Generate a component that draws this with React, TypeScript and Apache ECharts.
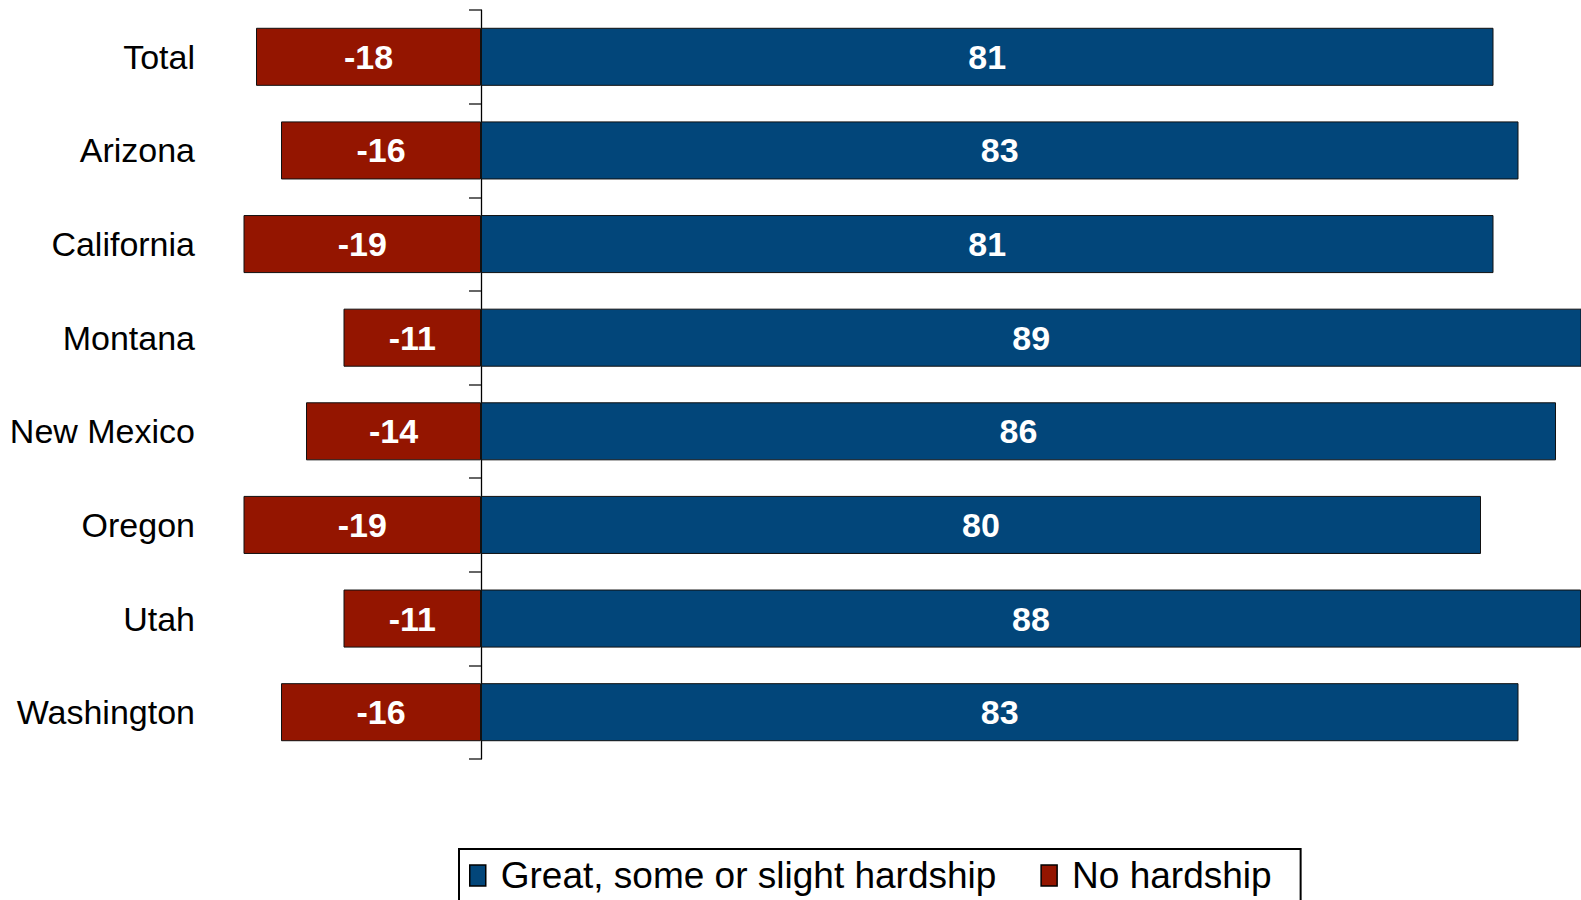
import React, { useEffect, useRef } from "react";
import * as echarts from "echarts";

const categories = ["Total", "Arizona", "California", "Montana", "New Mexico", "Oregon", "Utah", "Washington"];
const hardship = [81, 83, 81, 89, 86, 80, 88, 83];
const noHardship = [-18, -16, -19, -11, -14, -19, -11, -16];
const seriesNames = ["Great, some or slight hardship", "No hardship"];

const BLUE = "#02467A";
const RED = "#941500";
const FONT = "'Liberation Sans', Arial, sans-serif";

export default function App() {
  const ref = useRef<HTMLDivElement>(null);
  useEffect(() => {
    if (!ref.current) return;
    const chart = echarts.init(ref.current, null, { renderer: "svg" });
    const label = {
      show: true,
      position: "inside",
      color: "#fff",
      fontWeight: "bold",
      fontSize: 34,
      fontFamily: FONT,
    };
    chart.setOption({
      animation: false,
      backgroundColor: "#fff",
      grid: { left: 231, right: 0, top: 10, bottom: 141, containLabel: false, outerBoundsMode: "none" },
      xAxis: {
        type: "value",
        min: -20,
        max: 88,
        show: false,
      },
      yAxis: {
        type: "category",
        data: categories,
        inverse: true,
        axisLine: { show: true, onZero: true, lineStyle: { color: "#000", width: 1.3 } },
        axisTick: { show: true, inside: false, length: 12, lineStyle: { color: "#333", width: 1.5 } },
        axisLabel: { margin: 36, fontSize: 34, color: "#000", fontFamily: FONT },
        splitLine: { show: false },
      },
      legend: {
        data: seriesNames,
        left: 459,
        top: 849,
        orient: "horizontal",
        borderColor: "#000",
        borderWidth: 2,
        padding: [8, 29, 14, 10],
        itemGap: 44,
        itemWidth: 16,
        itemHeight: 21,
        icon: "rect",
        itemStyle: { borderColor: "#000", borderWidth: 1.5 },
        textStyle: { fontSize: 37, color: "#000", fontFamily: FONT, padding: [0, 0, 0, 10] },
      },
      series: [
        {
          name: seriesNames[0],
          type: "bar",
          stack: "t",
          data: hardship,
          barWidth: "62%",
          itemStyle: { color: BLUE, borderColor: "#111", borderWidth: 1 },
          label,
        },
        {
          name: seriesNames[1],
          type: "bar",
          stack: "t",
          data: noHardship,
          barWidth: "62%",
          itemStyle: { color: RED, borderColor: "#111", borderWidth: 1 },
          label,
        },
      ],
    });
    return () => chart.dispose();
  }, []);
  return (
    <div
      ref={ref}
      style={{ position: "absolute", left: 0, top: 0, width: 1581, height: 900, background: "#fff" }}
    />
  );
}
